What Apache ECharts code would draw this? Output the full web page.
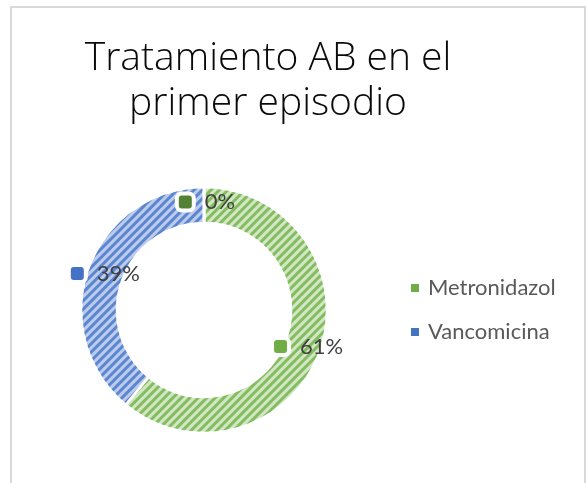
<!DOCTYPE html>
<html>
<head>
<meta charset="utf-8">
<title>Tratamiento AB en el primer episodio</title>
<script src="https://cdn.jsdelivr.net/npm/echarts@6/dist/echarts.min.js"></script>
<style>
  html, body { margin: 0; padding: 0; background: #fff; }
  #chart { width: 588px; height: 483px; }
</style>
</head>
<body>
<div id="chart"></div>
<script>
// datos
var categories = ['Metronidazol', 'Vancomicina', 'Otro']
var values = [61, 39, 0]
var legendNames = ['Metronidazol', 'Vancomicina']
var titleLines = ['Tratamiento AB en el', 'primer episodio']

// colores: relleno claro, rayas y marcador
var fillColors = ['#d3e7c6', '#bccced', '#548235']
var stripeColors = ['#84bd5f', '#5d86d0', '#548235']
var markerColors = ['#70ad47', '#4472c4', '#548235']

var chart = echarts.init(document.getElementById('chart'))

var pieData = categories.map(function (name, i) {
  return {
    name: name,
    value: values[i],
    itemStyle: {
      color: fillColors[i],
      decal: {
        symbol: 'rect',
        color: stripeColors[i],
        dashArrayX: [1, 0],
        dashArrayY: [2.5, 3],
        rotation: -Math.PI / 4
      }
    }
  }
})

var rich = {
  s: { width: 13 },
  v: { fontFamily: 'Lato', fontSize: 22, color: '#404040' }
}
markerColors.forEach(function (c, i) {
  rich['m' + i] = {
    width: 13,
    height: 13,
    backgroundColor: c,
    borderColor: '#fff',
    borderWidth: 4,
    borderRadius: 3
  }
})

var option = {
  animation: false,
  backgroundColor: '#fff',
  title: {
    text: titleLines.join('\n'),
    left: 263,
    top: 31,
    textAlign: 'center',
    textStyle: {
      fontFamily: 'Open Sans',
      fontWeight: 300,
      fontSize: 39,
      lineHeight: 45,
      color: '#0a0a0a'
    }
  },
  legend: {
    orient: 'vertical',
    left: 411,
    top: 277,
    padding: 0,
    icon: 'rect',
    itemWidth: 8,
    itemHeight: 8,
    itemGap: 22,
    selectedMode: false,
    itemStyle: { decal: 'none', borderWidth: 0 },
    data: legendNames.map(function (n) {
      return { name: n, itemStyle: { color: markerColors[categories.indexOf(n)] } }
    }),
    textStyle: {
      fontFamily: 'Lato',
      fontSize: 22,
      color: '#595959',
      padding: [0, 0, 0, 4]
    }
  },
  graphic: [{
    type: 'rect',
    silent: true,
    z: -10,
    shape: { x: 11, y: 7, width: 574, height: 520 },
    style: { fill: 'none', stroke: '#d9d9d9', lineWidth: 2 }
  }],
  series: [{
    type: 'pie',
    center: [204, 310],
    radius: [87, 123],
    startAngle: 90,
    clockwise: true,
    legendHoverLink: false,
    emphasis: { disabled: true },
    itemStyle: { borderColor: '#fff', borderWidth: 2.5 },
    label: {
      show: true,
      position: 'inside',
      offset: [3, 0],
      formatter: function (p) {
        return '{m' + p.dataIndex + '|}{s|}{v|' + Math.round(p.percent) + '%}'
      },
      rich: rich
    },
    labelLine: { show: false },
    data: pieData
  }]
}

chart.setOption(option)
</script>
</body>
</html>
